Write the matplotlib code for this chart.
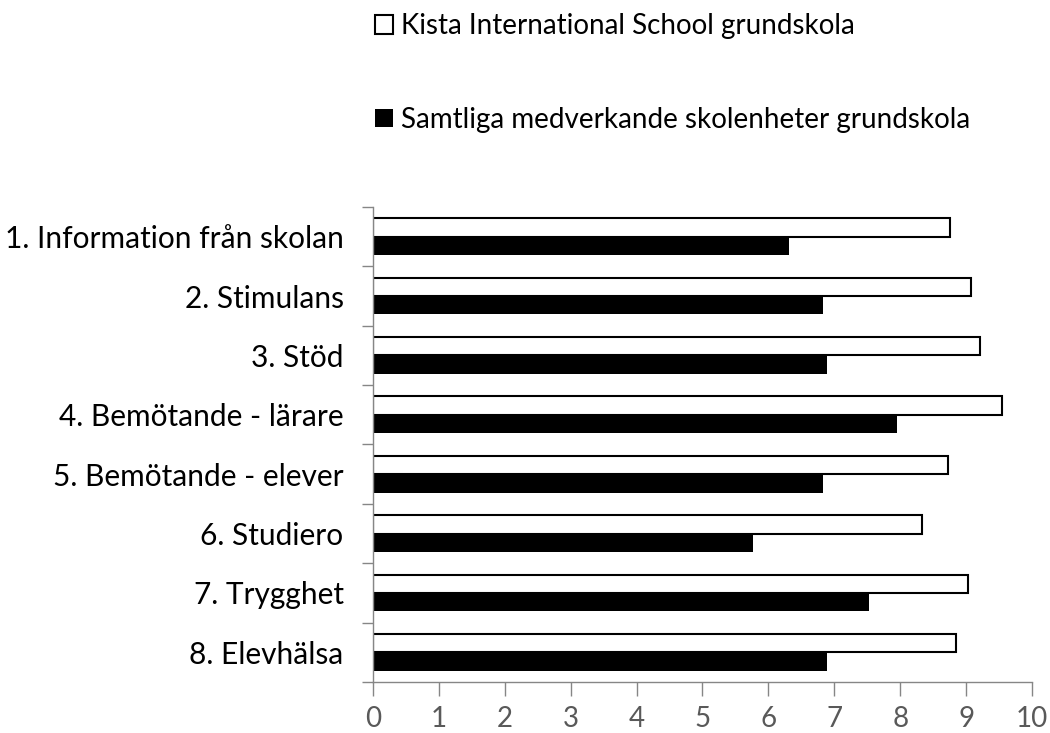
import numpy as np
import matplotlib.pyplot as plt

plt.rcParams['font.family'] = ['Lato', 'DejaVu Sans']

# categories and values
kategorier = ['1. Information från skolan', '2. Stimulans', '3. Stöd',
              '4. Bemötande - lärare', '5. Bemötande - elever', '6. Studiero',
              '7. Trygghet', '8. Elevhälsa']
kista = [8.76, 9.07, 9.21, 9.55, 8.73, 8.33, 9.03, 8.85]
samtliga = [6.31, 6.83, 6.89, 7.95, 6.83, 5.77, 7.53, 6.89]
serie_namn = ['Kista International School grundskola',
              'Samtliga medverkande skolenheter grundskola']
xticks = list(range(0, 11))

fig = plt.figure(figsize=(10.5, 7.33), dpi=100)
ax = fig.add_axes([0.355, 0.0696, 0.628, 0.648])

y = np.arange(len(kategorier))
h = 0.31
b1 = ax.barh(y - h / 2, kista, height=h, color='white', edgecolor='black', linewidth=1.5)
b2 = ax.barh(y + h / 2, samtliga, height=h, color='black', edgecolor='black', linewidth=0)

ax.set_ylim(len(kategorier) - 0.5, -0.5)
ax.set_xlim(0, 10)
ax.set_xticks(xticks)
ax.set_yticks(y)
ax.set_yticklabels(kategorier, fontsize=21.5, color='black')
ax.set_yticks(np.arange(-0.5, len(kategorier)), minor=True)
ax.tick_params(axis='y', which='major', length=0, pad=21)
ax.tick_params(axis='y', which='minor', length=8, color='#868686', width=1)
ax.tick_params(axis='x', length=10, color='#868686', width=1, labelsize=20,
               labelcolor='#595959', pad=7)

for s in ['top', 'right']:
    ax.spines[s].set_visible(False)
for s in ['left', 'bottom']:
    ax.spines[s].set_color('#868686')
    ax.spines[s].set_linewidth(1)

fig.legend([b1, b2], serie_namn, loc='upper left', bbox_to_anchor=(0.333, 1.016),
           frameon=False, fontsize=20, handlelength=0.65, handleheight=0.65,
           handletextpad=0.3, labelspacing=2.43)

fig.savefig('out.png', dpi=100)
